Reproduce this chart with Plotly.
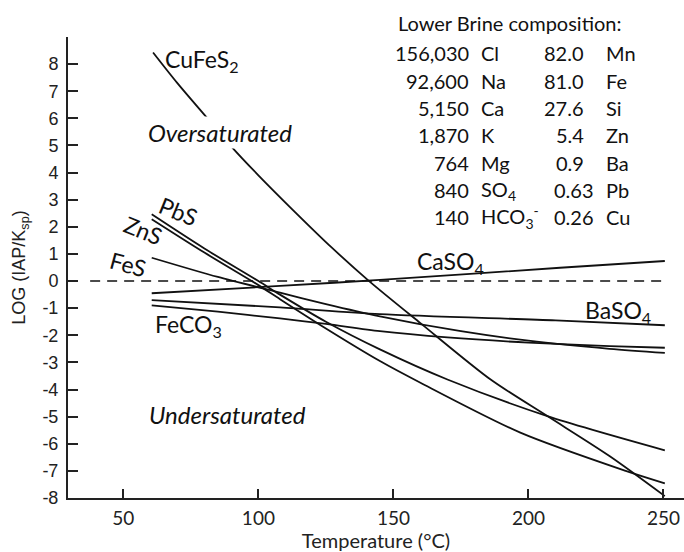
import plotly.graph_objects as go

# ---------------- data ----------------
T_cufes2 = [61, 70, 82, 90, 100, 113, 127, 141, 160, 186, 207, 230, 250.5]
SI_cufes2 = [8.43, 7.3, 5.9, 4.96, 3.9, 2.6, 1.25, 0.0, -1.55, -3.63, -4.98, -6.45, -7.93]

T_pbs = [60.5, 80, 100, 108, 125, 145, 170, 207, 250.5]
SI_pbs = [2.46, 1.2, 0.0, -0.5, -1.5, -2.52, -3.63, -4.98, -6.24]

T_zns = [60.5, 80, 100, 108, 125, 145, 160, 197, 236, 250.5]
SI_zns = [2.28, 1.05, -0.15, -0.67, -1.75, -2.95, -3.75, -5.59, -7.0, -7.46]

T_fes = [60.5, 85, 108, 125, 145, 175, 200, 230, 250.5]
SI_fes = [0.86, 0.15, -0.43, -0.85, -1.3, -1.85, -2.2, -2.5, -2.65]

T_feco3 = [60.5, 85, 108, 125, 145, 170, 200, 230, 250.5]
SI_feco3 = [-0.90, -1.13, -1.38, -1.58, -1.85, -2.08, -2.27, -2.4, -2.46]

T_baso4 = [60.5, 108, 145, 210, 250.5]
SI_baso4 = [-0.70, -0.97, -1.22, -1.45, -1.63]

T_caso4 = [60.5, 108, 145, 211.7, 250.5]
SI_caso4 = [-0.45, -0.18, 0.04, 0.49, 0.74]

T_zero = [37.7, 250]
SI_zero = [0, 0]

x_ticks = [50, 100, 150, 200, 250]
y_ticks = list(range(-8, 10))
y_ticktext = [str(v) for v in range(-8, 9)] + [""]

brine_conc1 = ["156,030", "92,600", "5,150", "1,870", "764", "840", "140"]
brine_ion1 = ["Cl", "Na", "Ca", "K", "Mg", "SO<sub>4</sub>", "HCO<sub>3</sub><sup>-</sup>"]
brine_conc2 = ["82.0", "81.0", "27.6", "5.4", "0.9", "0.63", "0.26"]
brine_ion2 = ["Mn", "Fe", "Si", "Zn", "Ba", "Pb", "Cu"]

# ---------------- figure ----------------
W, H = 684, 552
L, R, T, B = 68, 0, 37, 54
PW, PH = W - L - R, H - T - B

def ax(xp):
    return (xp - L) / PW

def ay(yp):
    return (H - B - yp) / PH

INK = "#111111"
AXC = "#222222"
TXT = "Lato"

fig = go.Figure()
for Tv, Sv in [(T_cufes2, SI_cufes2), (T_pbs, SI_pbs), (T_zns, SI_zns), (T_fes, SI_fes),
               (T_feco3, SI_feco3), (T_baso4, SI_baso4), (T_caso4, SI_caso4)]:
    fig.add_trace(go.Scatter(x=Tv, y=Sv, mode="lines",
                             line=dict(color=INK, width=1.8, shape="spline", smoothing=0.8),
                             hoverinfo="skip", showlegend=False))
fig.add_trace(go.Scatter(x=T_zero, y=SI_zero, mode="lines",
                         line=dict(color=INK, width=1.6, dash="10px,7px"),
                         hoverinfo="skip", showlegend=False))

fig.update_layout(
    width=W, height=H, margin=dict(l=L, r=R, t=T, b=B),
    plot_bgcolor="white", paper_bgcolor="white", showlegend=False,
)
fig.update_xaxes(
    range=[29.5, 257.6], tickvals=x_ticks, ticks="inside", ticklen=9, tickwidth=2,
    tickcolor=AXC, showline=True, linecolor=AXC, linewidth=2, showgrid=False,
    zeroline=False, ticklabelstandoff=2,
    tickfont=dict(family=TXT, size=19, color=AXC),
    title=dict(text="Temperature (°C)", font=dict(family=TXT, size=20, color=AXC), standoff=2),
)
fig.update_yaxes(
    range=[-8, 9], tickvals=y_ticks, ticktext=y_ticktext, ticks="inside", ticklen=10,
    tickwidth=2, tickcolor=AXC, showline=True, linecolor=AXC, linewidth=2,
    showgrid=False, zeroline=False, ticklabelstandoff=4,
    tickfont=dict(family="Liberation Sans", size=18, color=AXC),
    title=dict(text="LOG (IAP/K<sub>sp</sub>)", font=dict(family="Liberation Sans", size=18, color=AXC), standoff=12),
)

ann = []
def label(text, xp, yp, size=23, xanchor="center", angle=0, italic=False, bg=None):
    d = dict(text=text, x=ax(xp), y=ay(yp), xref="paper", yref="paper",
             showarrow=False, xanchor=xanchor, yanchor="middle", textangle=angle,
             font=dict(family=TXT, size=size, color=INK, style="italic" if italic else "normal"))
    if bg:
        d["bgcolor"] = bg
    ann.append(d)

label("CuFeS<sub>2</sub>", 163, 60, xanchor="left")
label("Oversaturated", 146, 132, size=24, xanchor="left", italic=True, bg="white")
label("PbS", 178, 211, angle=22)
label("ZnS", 143, 230, angle=22)
label("FeS", 128, 264, angle=15)
label("CaSO<sub>4</sub>", 450, 262)
label("BaSO<sub>4</sub>", 618, 311)
label("FeCO<sub>3</sub>", 188, 325)
label("Undersaturated", 147, 414, size=24, xanchor="left", italic=True)

# table
label("Lower Brine composition:", 396, 23, size=20, xanchor="left")
row_y = [53, 81, 108, 135, 163, 190, 217]
for i, yp in enumerate(row_y):
    label(brine_conc1[i], 471, yp, size=20, xanchor="right")
    label(brine_ion1[i], 479, yp, size=20, xanchor="left")
    ndec = len(brine_conc2[i].split(".")[1])
    label(brine_conc2[i], 586 + (ndec - 1) * 10, yp, size=20, xanchor="right")
    label(brine_ion2[i], 604, yp, size=20, xanchor="left")

fig.update_layout(annotations=ann)
fig.write_html("out.html")
